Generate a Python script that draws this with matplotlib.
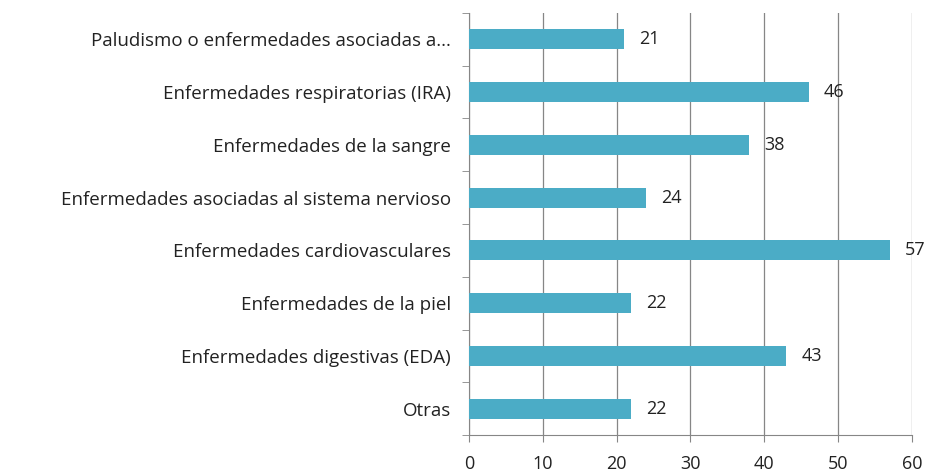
import matplotlib
matplotlib.use('Agg')
import matplotlib.pyplot as plt
import numpy as np

categorias = ['Paludismo o enfermedades asociadas a...',
              'Enfermedades respiratorias (IRA)',
              'Enfermedades de la sangre',
              'Enfermedades asociadas al sistema nervioso',
              'Enfermedades cardiovasculares',
              'Enfermedades de la piel',
              'Enfermedades digestivas (EDA)',
              'Otras']
valores = [21, 46, 38, 24, 57, 22, 43, 22]
ticks_x = [0, 10, 20, 30, 40, 50, 60]

plt.rcParams['font.family'] = ['Open Sans', 'DejaVu Sans']

fig = plt.figure(figsize=(9.32, 4.76), dpi=100)
ax = fig.add_axes([0.503, 0.086, 0.4755, 0.887])

pos = np.arange(len(categorias))
ax.barh(pos, valores, height=0.38, color='#4bacc6', zorder=3)
for p, v in zip(pos, valores):
    ax.annotate(str(v), (v, p), xytext=(11, 0), textcoords='offset points',
                va='center', ha='left', fontsize=13, color='#222222')

ax.set_ylim(len(categorias) - 0.5, -0.5)
ax.set_xlim(0, 60)
ax.set_xticks(ticks_x)
ax.set_yticks(pos)
ax.set_yticklabels(categorias)
ax.set_yticks(np.arange(len(categorias) + 1) - 0.5, minor=True)
ax.tick_params(axis='y', which='major', length=0, pad=13, labelsize=13.5, labelcolor='#222222')
ax.tick_params(axis='y', which='minor', length=5, color='#868686')
ax.tick_params(axis='x', length=5, color='#868686', labelsize=13, labelcolor='#222222', pad=9)

ax.grid(axis='x', color='#868686', linewidth=0.9, zorder=0)
for s in ['top', 'right']:
    ax.spines[s].set_visible(False)
for s in ['left', 'bottom']:
    ax.spines[s].set_color('#868686')

fig.savefig('out.png', dpi=100)
